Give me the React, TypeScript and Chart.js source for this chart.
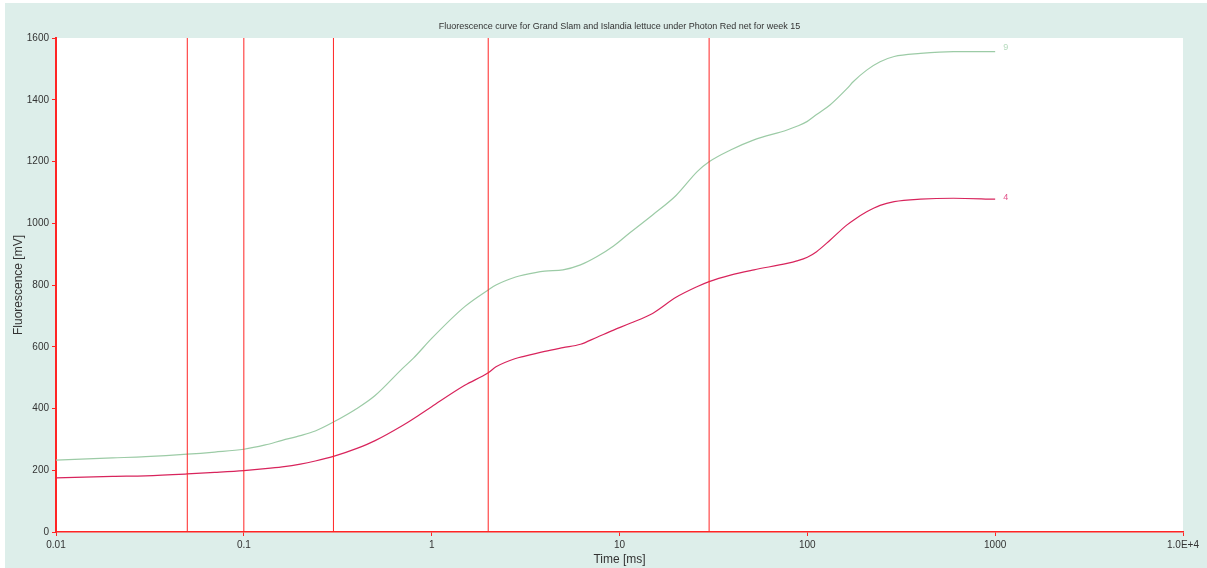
import React, { useEffect, useRef } from "react";
import { Chart, registerables } from "chart.js";

Chart.register(...registerables);

const titleText =
  "Fluorescence curve for Grand Slam and Islandia lettuce under Photon Red net for week 15";
const xTitle = "Time [ms]";
const yTitle = "Fluorescence [mV]";

// Time [ms]
const times = [
  0.01, 0.02, 0.03, 0.05, 0.07, 0.1, 0.13, 0.16, 0.2, 0.24, 0.3, 0.4, 0.5, 0.7, 0.8, 1, 1.5, 2,
  2.2, 2.8, 3.1, 4, 5, 6.2, 7.6, 9.3, 11.4, 15, 20, 26, 30, 39, 52, 78, 88, 100, 112, 132, 162,
  176, 207, 244, 290, 400, 600, 1000,
];

// Series "9" (green)
const series9 = [
  233, 240, 244, 252, 259, 268, 282, 297, 312, 327, 356, 400, 442, 530, 563, 627, 730, 784, 800,
  826, 833, 845, 849, 865, 892, 926, 970, 1027, 1090, 1168, 1199, 1237, 1270, 1302, 1314, 1330,
  1352, 1383, 1435, 1459, 1496, 1523, 1540, 1550, 1556, 1556,
];

// Series "4" (crimson)
const series4 = [
  175, 180, 182, 188, 193, 199, 205, 211, 220, 230, 245, 271, 296, 345, 367, 406, 475, 516, 535,
  562, 569, 585, 597, 608, 631, 654, 676, 708, 760, 795, 811, 832, 849, 870, 878, 890, 908, 945,
  994, 1010, 1037, 1058, 1070, 1078, 1081, 1078,
];

const seriesNames = ["9", "4"];

// Vertical marker lines (time in ms)
const markerTimes = [0.05, 0.1, 0.3, 2, 30];

const xTickValues = [0.01, 0.1, 1, 10, 100, 1000, 10000];
const xTickLabels = ["0.01", "0.1", "1", "10", "100", "1000", "1.0E+4"];

const yMin = 0;
const yMax = 1600;
const yStep = 200;

const TEAL = "#DDEEEA";
const RED = "#FF2424";
const GREEN_LINE = "#9CCBA6";
const CRIMSON_LINE = "#D8245C";
const GREEN_LABEL = "#B4DABC";
const CRIMSON_LABEL = "#E2528A";
const TEXT = "#333333";
const FONT = "'Liberation Sans', Arial, sans-serif";

export default function App() {
  const ref = useRef<HTMLCanvasElement | null>(null);

  useEffect(() => {
    if (!ref.current) return;

    const bgPlugin = {
      id: "bgPlugin",
      beforeDraw(chart: any) {
        const { ctx, chartArea } = chart;
        ctx.save();
        ctx.fillStyle = "#ffffff";
        ctx.fillRect(0, 0, chart.width, chart.height);
        ctx.fillStyle = TEAL;
        ctx.fillRect(5, 3, chart.width - 5, chart.height - 3);
        ctx.fillStyle = "#ffffff";
        ctx.fillRect(
          chartArea.left,
          chartArea.top,
          chartArea.right - chartArea.left,
          chartArea.bottom - chartArea.top
        );
        ctx.restore();
      },
      afterDraw(chart: any) {
        const { ctx, chartArea } = chart;
        ctx.save();
        ctx.fillStyle = TEXT;
        ctx.font = "9px " + FONT;
        ctx.textAlign = "center";
        ctx.textBaseline = "middle";
        ctx.fillText(titleText, (chartArea.left + chartArea.right) / 2, 27);
        ctx.restore();
      },
    };

    const endLabelPlugin = {
      id: "endLabels",
      afterDatasetsDraw(chart: any) {
        const { ctx } = chart;
        ctx.save();
        ctx.font = "9px " + FONT;
        ctx.textAlign = "left";
        ctx.textBaseline = "middle";
        chart.data.datasets.forEach((ds: any, i: number) => {
          if (!ds.endLabel) return;
          const meta = chart.getDatasetMeta(i);
          const pt = meta.data[meta.data.length - 1];
          if (!pt) return;
          ctx.fillStyle = ds.endLabelColor;
          ctx.fillText(ds.endLabel, pt.x + 8, pt.y + ds.endLabelDy);
        });
        ctx.restore();
      },
    };

    const markerDatasets = markerTimes.map((t) => ({
      label: "marker " + t,
      data: [
        { x: t, y: yMin },
        { x: t, y: yMax },
      ],
      borderColor: RED,
      borderWidth: 1,
      pointRadius: 0,
      fill: false,
    }));

    const chart = new Chart(ref.current, {
      type: "line",
      data: {
        datasets: [
          ...markerDatasets,
          {
            label: seriesNames[0],
            data: times.map((t, i) => ({ x: t, y: series9[i] })),
            borderColor: GREEN_LINE,
            borderWidth: 1.2,
            pointRadius: 0,
            fill: false,
            cubicInterpolationMode: "monotone",
            endLabel: seriesNames[0],
            endLabelColor: GREEN_LABEL,
            endLabelDy: -4,
          } as any,
          {
            label: seriesNames[1],
            data: times.map((t, i) => ({ x: t, y: series4[i] })),
            borderColor: CRIMSON_LINE,
            borderWidth: 1.2,
            pointRadius: 0,
            fill: false,
            cubicInterpolationMode: "monotone",
            endLabel: seriesNames[1],
            endLabelColor: CRIMSON_LABEL,
            endLabelDy: -2,
          } as any,
        ],
      },
      options: {
        animation: false,
        responsive: false,
        devicePixelRatio: 1,
        events: [],
        layout: { padding: { left: 0, top: 38, right: 24, bottom: 0 } },
        plugins: {
          legend: { display: false },
          tooltip: { enabled: false },
          title: { display: false },
        },
        scales: {
          x: {
            type: "logarithmic",
            min: 0.01,
            max: 10000,
            afterBuildTicks: (s: any) => {
              s.ticks = xTickValues.map((v) => ({ value: v }));
            },
            afterFit: (s: any) => {
              s.height = 36;
            },
            ticks: {
              autoSkip: false,
              maxRotation: 0,
              minRotation: 0,
              color: TEXT,
              padding: 3,
              font: { family: FONT, size: 10 },
              callback: (v: any) => {
                const idx = xTickValues.indexOf(Number(v));
                return idx >= 0 ? xTickLabels[idx] : "";
              },
            },
            grid: {
              drawOnChartArea: false,
              drawTicks: true,
              tickLength: 4,
              color: RED,
              lineWidth: 1,
            },
            border: { display: true, color: RED, width: 1.5 },
            title: {
              display: true,
              text: xTitle,
              color: TEXT,
              font: { family: FONT, size: 12 },
              padding: { top: 0, bottom: 1 },
            },
          },
          y: {
            type: "linear",
            min: yMin,
            max: yMax,
            afterFit: (s: any) => {
              s.width = 56;
            },
            ticks: {
              stepSize: yStep,
              color: TEXT,
              padding: 3,
              font: { family: FONT, size: 10 },
              callback: (v: any) => String(v),
            },
            grid: {
              drawOnChartArea: false,
              drawTicks: true,
              tickLength: 4,
              color: RED,
              lineWidth: 1,
            },
            border: { display: true, color: RED, width: 2 },
            title: {
              display: true,
              text: yTitle,
              color: TEXT,
              font: { family: FONT, size: 12 },
              padding: { top: 11, bottom: 0 },
            },
          },
        },
      } as any,
      plugins: [bgPlugin, endLabelPlugin],
    });

    return () => chart.destroy();
  }, []);

  return (
    <div style={{ position: "absolute", left: 0, top: 0, width: 1207, height: 568 }}>
      <canvas ref={ref} width={1207} height={568} style={{ width: 1207, height: 568, display: "block" }} />
    </div>
  );
}
